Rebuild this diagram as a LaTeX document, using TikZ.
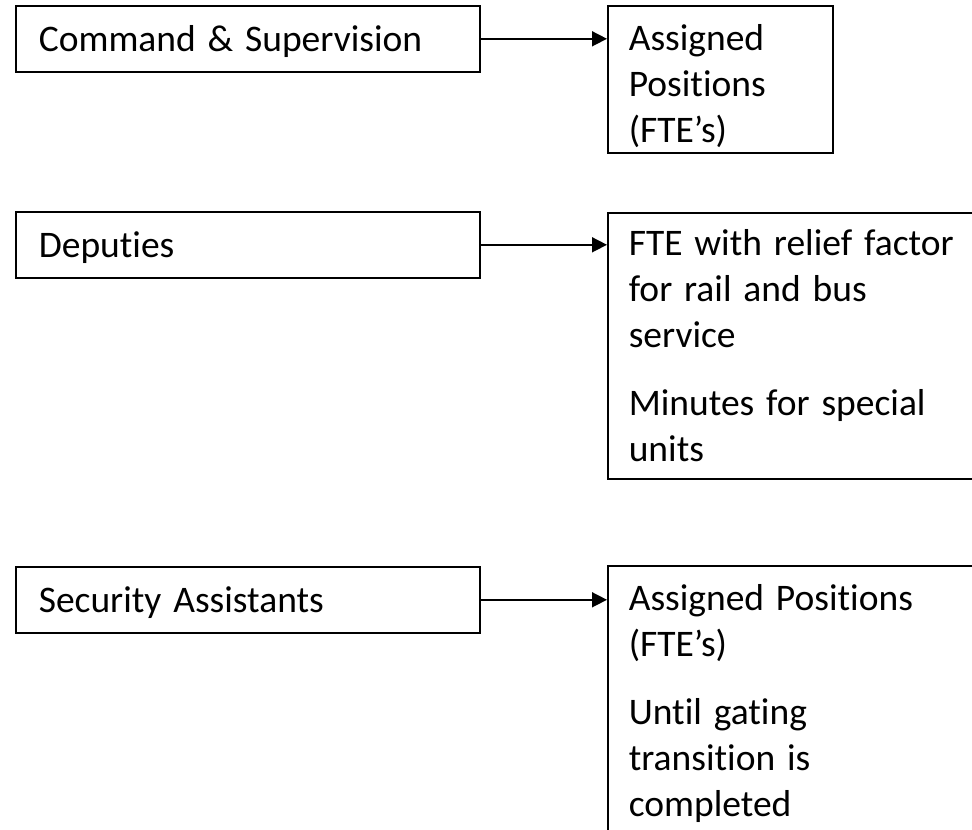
\documentclass[tikz,border=0pt]{standalone}
\usepackage{fontspec}
\setmainfont{Carlito}[Ligatures={NoCommon},WordSpace=1.4]
\usetikzlibrary{arrows.meta}
\tikzset{
  catbox/.style={draw=black, line width=1.6pt, anchor=north west, minimum width=464pt, minimum height=66pt,
    inner xsep=23pt, text width=418pt, align=flush left, font=\fontsize{37.5}{46}\selectfont},
  resbox/.style={draw=black, line width=1.6pt, anchor=north west, inner xsep=21pt, align=flush left,
    font=\fontsize{37.5}{46}\selectfont},
  link/.style={line width=1.6pt, -{Triangle[length=15pt,width=15pt]}}
}
\begin{document}
\begin{tikzpicture}[x=1pt,y=-1pt]
\useasboundingbox (0,0) rectangle (972,830);
\clip (0,0) rectangle (972,830);
\node[catbox] (cs) at (15,5) {\rule{0pt}{31pt}Command \& Supervision};
\node[catbox] (dep) at (15,211) {\rule{0pt}{31pt}Deputies};
\node[catbox] (sa) at (15,566) {\rule{0pt}{31pt}Security Assistants};
\node[resbox, minimum width=225pt, minimum height=147pt, text width=183pt] (r1) at (607,5)
  {\rule{0pt}{40pt}Assigned\\Positions\\(FTE’s)};
\node[resbox, minimum width=420pt, minimum height=266pt, text width=378pt] (r2) at (607,212)
  {FTE with relief factor\\for rail and bus\\service\\[22pt]Minutes for special\\units};
\node[resbox, minimum width=420pt, minimum height=276pt, text width=378pt] (r3) at (607,565)
  {Assigned Positions\\(FTE’s)\\[22pt]Until gating\\transition is\\completed};
\draw[link] (cs.east) -- (cs.east -| r1.west);
\draw[link] (dep.east) -- (dep.east -| r2.west);
\draw[link] (sa.east) -- (sa.east -| r3.west);
\end{tikzpicture}
\end{document}
